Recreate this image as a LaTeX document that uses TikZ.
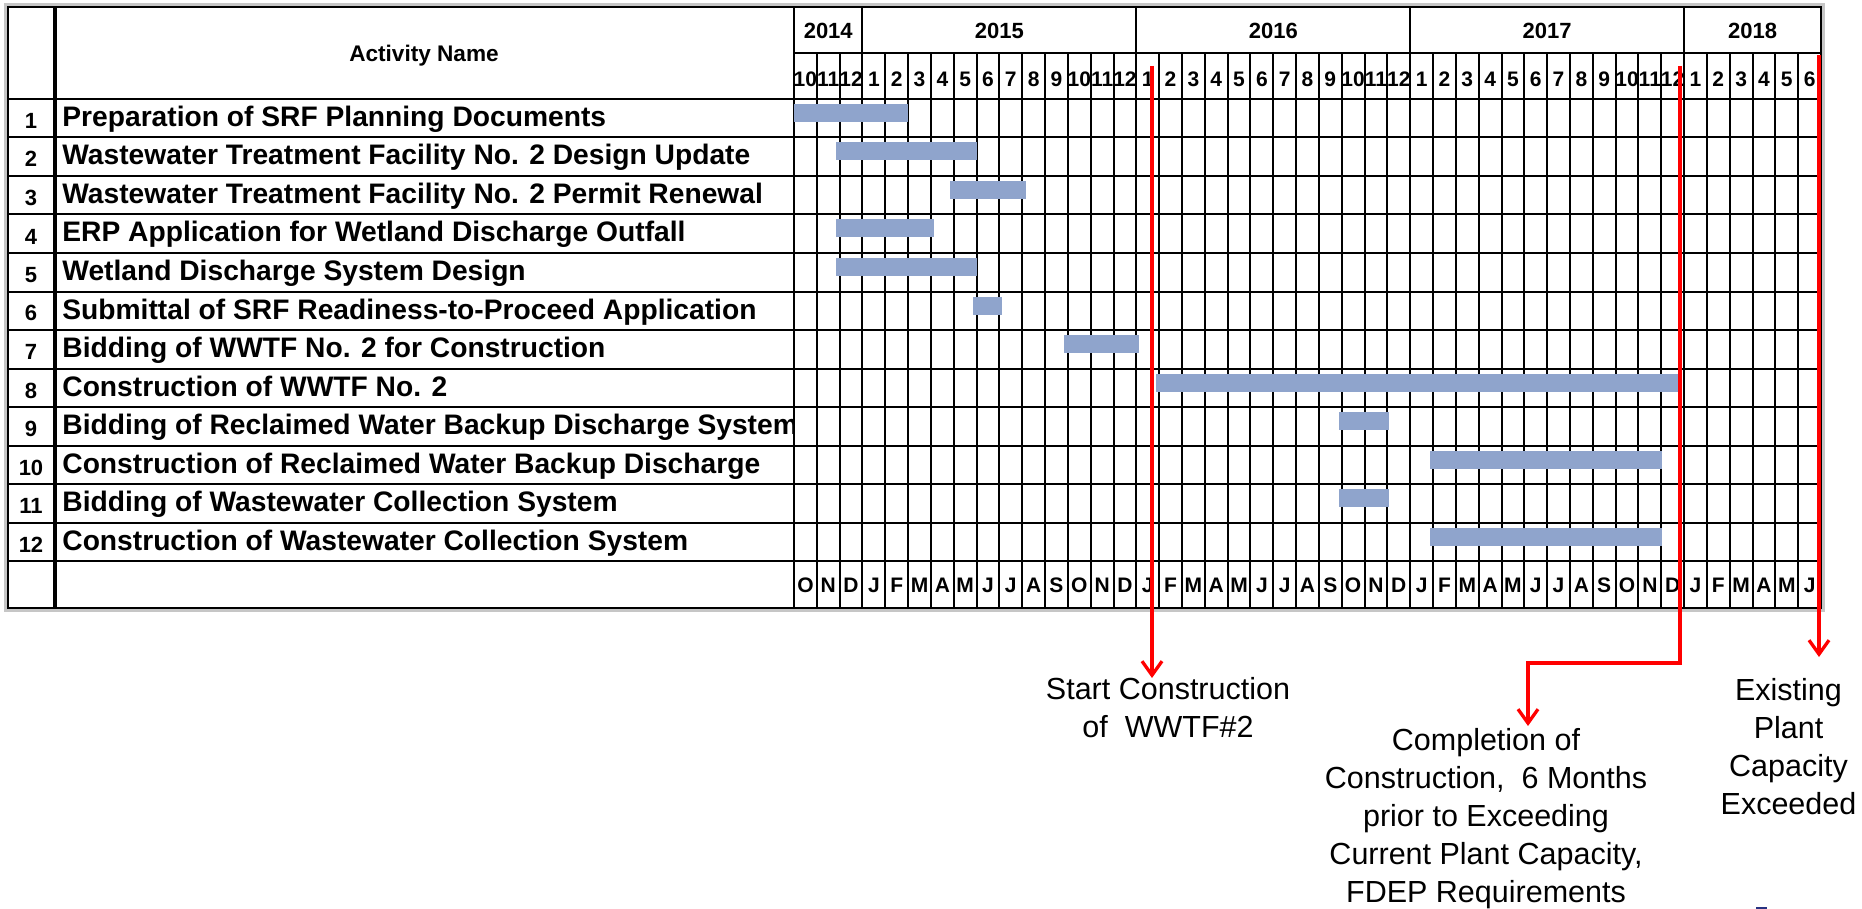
\documentclass[tikz,border=0pt]{standalone}
\usepackage{fontspec}
\setmainfont{Liberation Sans}
\usetikzlibrary{arrows.meta}
\definecolor{barblue}{RGB}{143,164,204}
\definecolor{flagred}{RGB}{255,0,0}
\definecolor{inkblue}{RGB}{40,50,130}
% chart geometry (1 unit = 0.5pt)
\newcommand\monthw{22.822}
\newcommand\rowh{38.5}
\begin{document}
\begin{tikzpicture}[x=0.5pt,y=-0.5pt,
  gridline/.style={line width=1pt,black},
  frame/.style={line width=1.2pt,black},
  bar/.style={fill=barblue,draw=none},
  yearlbl/.style={font=\bfseries\fontsize{11}{13}\selectfont,anchor=base,inner sep=0pt},
  monthlbl/.style={font=\bfseries\fontsize{10.5}{12}\selectfont,anchor=base,inner sep=0pt},
  letterlbl/.style={font=\bfseries\fontsize{10.5}{12}\selectfont,anchor=base,inner sep=0pt},
  numlbl/.style={font=\bfseries\fontsize{11}{13}\selectfont,anchor=base,inner sep=0pt},
  actlbl/.style={font=\bfseries\fontsize{14.1}{16}\selectfont,anchor=base west,inner sep=0pt},
  note/.style={font=\fontsize{15.25}{19}\selectfont,align=center,anchor=north,inner sep=0pt},
  flag/.style={flagred,line width=1.65pt,-{Straight Barb[length=7pt,width=10pt]}},
]
\useasboundingbox (0,0) rectangle (1862,909);
\fill[white] (0,0) rectangle (1862,909);

% ---- grid ----
% month columns run through the month row, task rows and footer
\foreach \k in {1,...,44}
  \draw[gridline] ({794+\k*\monthw},52.7) -- ({794+\k*\monthw},608);
% year boundaries in the top header row
\foreach \k in {3,15,27,39}
  \draw[gridline] ({794+\k*\monthw},7) -- ({794+\k*\monthw},52.7);
\draw[gridline] (794,52.7) -- (1821,52.7);
% horizontal row separators
\draw[gridline] (8,99) -- (1821,99);
\foreach \r in {1,...,12}
  \draw[gridline] (8,{99+\r*\rowh}) -- (1821,{99+\r*\rowh});
% column separators and outer frame
\draw[line width=1.3pt] (794,7) -- (794,608);
\draw[line width=2pt] (55,7) -- (55,608);
\draw[gray!45,line width=2pt] (6,5) rectangle (1823,610);
\draw[frame] (8,7) rectangle (1821,608);

% ---- header ----
\node[font=\bfseries\fontsize{11.3}{13}\selectfont,anchor=base,inner sep=0pt] (hdr) at (424,62) {Activity Name};
\node[yearlbl] (yr2014) at ({794+1.5*\monthw},39) {2014};
\node[yearlbl] (yr2015) at ({794+9*\monthw},39) {2015};
\node[yearlbl] (yr2016) at ({794+21*\monthw},39) {2016};
\node[yearlbl] (yr2017) at ({794+33*\monthw},39) {2017};
\node[yearlbl] (yr2018) at ({794+42*\monthw},39) {2018};
\foreach \m [count=\k from 0] in {10,11,12,1,2,3,4,5,6,7,8,9,10,11,12,1,2,3,4,5,6,7,8,9,10,11,12,1,2,3,4,5,6,7,8,9,10,11,12,1,2,3,4,5,6}
  \node[monthlbl] (mn\k) at ({794+(\k+0.5)*\monthw},87) {\m};
\foreach \m [count=\k from 0] in {O,N,D,J,F,M,A,M,J,J,A,S,O,N,D,J,F,M,A,M,J,J,A,S,O,N,D,J,F,M,A,M,J,J,A,S,O,N,D,J,F,M,A,M,J}
  \node[letterlbl] (ml\k) at ({794+(\k+0.5)*\monthw},592.5) {\m};

% ---- activity rows ----
\foreach \r in {1,...,12}
  \node[numlbl] (num\r) at (31,{99+(\r-1)*\rowh+29.5}) {\r};
\begin{scope}
  \clip (57,99) rectangle (793,561);
  \foreach \r/\t in {
    1/Preparation of SRF Planning Documents,
    2/Wastewater Treatment Facility No. 2 Design Update,
    3/Wastewater Treatment Facility No. 2 Permit Renewal,
    4/ERP Application for Wetland Discharge Outfall,
    5/Wetland Discharge System Design,
    6/Submittal of SRF Readiness-to-Proceed Application,
    7/Bidding of WWTF No. 2 for Construction,
    8/Construction of WWTF No. 2,
    9/Bidding of Reclaimed Water Backup Discharge System,
    10/Construction of Reclaimed Water Backup Discharge,
    11/Bidding of Wastewater Collection System,
    12/Construction of Wastewater Collection System}
    \node[actlbl] (act\r) at (62,{99+(\r-1)*\rowh+27.5}) {\t};
\end{scope}

% ---- schedule bars (start / end in months from Oct 2014) ----
\foreach \r/\a/\b in {1/0/5, 2/1.83/8, 3/6.83/10.15, 4/1.83/6.15, 5/1.83/8,
    6/7.85/9.1, 7/11.85/15.1, 8/15.88/38.88, 9/23.9/26.05, 10/27.85/38.05,
    11/23.9/26.05, 12/27.85/38.05}
  \fill[bar] ({794+\a*\monthw},{99+(\r-1)*\rowh+5}) rectangle ({794+\b*\monthw},{99+(\r-1)*\rowh+23});

% ---- milestone notes ----
\node[note] (noteStart) at (1168,677) {Start Construction\\of~\ WWTF\#2};
\node[note] (noteDone) at (1486,727.5) {Completion of\\Construction,~\ 6 Months\\prior to Exceeding\\Current Plant Capacity,\\FDEP Requirements};
\node[note] (noteCap) at (1788.5,678) {Existing\\Plant\\Capacity\\Exceeded};

% ---- milestone markers ----
\coordinate (startA) at (1152,66);
\coordinate (tipA) at (1152,678);
\coordinate (startB) at (1680,66);
\coordinate (bendB) at (1680,663);
\coordinate (tipB) at (1528,726);
\coordinate (startC) at (1819,55);
\coordinate (tipC) at (1819,657);
\draw[flag] (startA) -- (tipA);
\draw[flag] (startB) -- (bendB) -| (tipB);
\draw[flag] (startC) -- (tipC);

% small stray mark at the lower edge
\draw[inkblue,line width=0.7pt] (1756,908) -- (1767,908);
\end{tikzpicture}
\end{document}
